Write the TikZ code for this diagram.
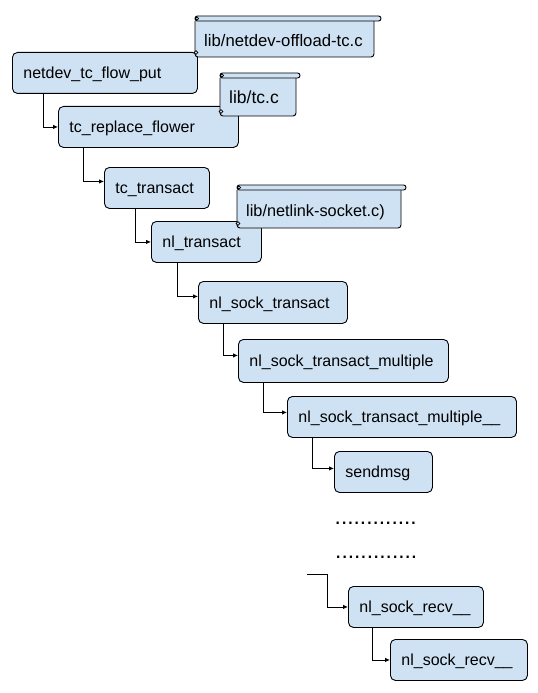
\documentclass[tikz,border=0pt]{standalone}
\usepackage{fontspec}
\setmainfont{Liberation Sans}
\usetikzlibrary{arrows.meta}
\definecolor{boxfill}{HTML}{CFE2F3}
\tikzset{
  fn/.style={draw=black, fill=boxfill, rounded corners=5bp, line width=0.9bp, anchor=north west,
    inner xsep=11bp, inner ysep=0pt, align=left, text height=11.5bp, text depth=0pt,
    font=\fontsize{16bp}{19bp}\selectfont},
  conn/.style={draw, line width=0.9bp, -{Latex[length=5bp,width=4.5bp]}},
  scrollbody/.style={draw=black, fill=boxfill, line width=0.9bp, rounded corners=3bp},
  scrollbar/.style={draw=black, fill=boxfill, line width=0.9bp, rounded corners=2.4bp},
  curl/.style={draw=black, fill=boxfill, line width=0.7bp},
  scrolltext/.style={anchor=base west, inner sep=0pt},
  dots/.style={anchor=base west, inner sep=0pt, font=\fontsize{22.7bp}{24bp}\selectfont},
}
\begin{document}
\begin{tikzpicture}[x=1bp, y=-1bp]
\useasboundingbox (0,0) rectangle (538,693);

% box 1 and its scroll
\node[fn, text width=163bp, minimum height=41bp] (n1) at (12,52) {netdev\_tc\_flow\_put};
\coordinate (s1a) at (195,21);
\coordinate (s1b) at (374,57);
\draw[scrollbody] (s1a) -- (s1a |- s1b) -- (s1b) -- (s1b |- s1a);
\draw[scrollbar] ([yshift=5bp]s1a) rectangle ([xshift=7bp]s1b |- s1a);
\draw[curl] ([xshift=2bp,yshift=2.5bp]s1a) circle (1.6bp);
\draw[curl] ([xshift=1bp,yshift=4.5bp]s1a |- s1b) circle (1.8bp);
\node[scrolltext, font=\fontsize{16.7bp}{19bp}\selectfont] (S1) at (204,47) {lib/netdev-offload-tc.c};

% box 2 and its scroll
\node[fn, text width=158bp, minimum height=41bp] (n2) at (58,106) {tc\_replace\_flower};
\coordinate (s2a) at (220,78);
\coordinate (s2b) at (296,116);
\draw[scrollbody] (s2a) -- (s2a |- s2b) -- (s2b) -- (s2b |- s2a);
\draw[scrollbar] ([yshift=5bp]s2a) rectangle ([xshift=4bp]s2b |- s2a);
\draw[curl] ([xshift=2bp,yshift=2.5bp]s2a) circle (1.6bp);
\draw[curl] ([xshift=1bp,yshift=4.5bp]s2a |- s2b) circle (1.8bp);
\node[scrolltext, font=\fontsize{17.5bp}{19bp}\selectfont] (S2) at (229,104) {lib/tc.c};

% box 3
\node[fn, text width=83bp, minimum height=41bp] (n3) at (104,167) {tc\_transact};

% box 4 and its scroll
\node[fn, text width=88bp, minimum height=41bp] (n4) at (151,221) {nl\_transact};
\coordinate (s3a) at (237,190);
\coordinate (s3b) at (401,228);
\draw[scrollbody] (s3a) -- (s3a |- s3b) -- (s3b) -- (s3b |- s3a);
\draw[scrollbar] ([yshift=5bp]s3a) rectangle ([xshift=5bp]s3b |- s3a);
\draw[curl] ([xshift=2bp,yshift=2.5bp]s3a) circle (1.6bp);
\draw[curl] ([xshift=1bp,yshift=4.5bp]s3a |- s3b) circle (1.8bp);
\node[scrolltext, font=\fontsize{16.3bp}{19bp}\selectfont] (S3) at (246,216.5) {lib/netlink-socket.c)};

% remaining boxes
\node[fn, text width=127bp, minimum height=42bp] (n5) at (198,281) {nl\_sock\_transact};
\node[fn, text width=188bp, minimum height=43bp] (n6) at (238,339) {nl\_sock\_transact\_multiple};
\node[fn, text width=207bp, minimum height=41bp] (n7) at (287,396) {nl\_sock\_transact\_multiple\_\_};
\node[fn, text width=76bp, minimum height=41bp] (n8) at (334,451) {sendmsg};
\node[fn, text width=113bp, minimum height=41bp] (n9) at (348,586) {nl\_sock\_recv\_\_};
\node[fn, text width=115bp, minimum height=41bp] (n10) at (390,639) {nl\_sock\_recv\_\_};

% dots
\node[dots] (d1) at (334.5,524.5) {.............};
\node[dots] (d2) at (335,558.5) {.............};

% connectors
\draw[conn] ([xshift=31bp]n1.south west) |- (n2.west);
\draw[conn] ([xshift=25bp]n2.south west) |- ([yshift=6.5bp]n3.west);
\draw[conn] ([xshift=31bp]n3.south west) |- (n4.west);
\draw[conn] ([xshift=26bp]n4.south west) |- ([yshift=6bp]n5.west);
\draw[conn] ([xshift=25bp]n5.south west) |- ([yshift=5.5bp]n6.west);
\draw[conn] ([xshift=25bp]n6.south west) |- ([yshift=4.5bp]n7.west);
\draw[conn] ([xshift=25bp]n7.south west) |- ([yshift=3.5bp]n8.west);
\coordinate (c0) at (307,574);
\coordinate (c1) at (327,574);
\draw[conn] (c0) -- (c1) |- (n9.west);
\draw[conn] ([xshift=24bp]n9.south west) |- (n10.west);
\end{tikzpicture}
\end{document}
